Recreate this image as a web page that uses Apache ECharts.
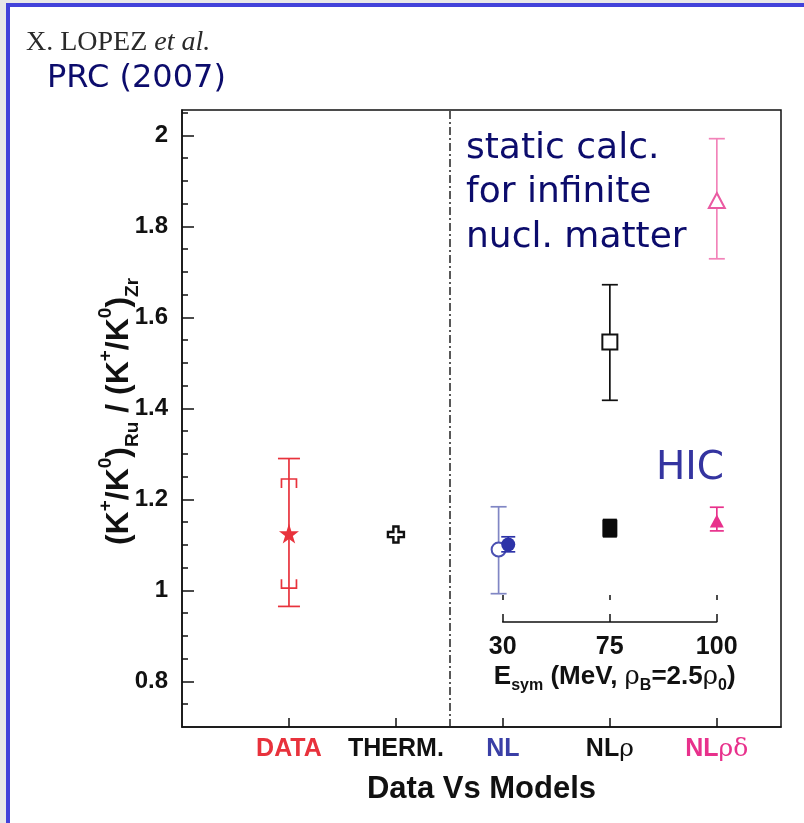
<!DOCTYPE html>
<html><head><meta charset="utf-8">
<script src="https://cdn.jsdelivr.net/npm/echarts@6/dist/echarts.min.js"></script>
<style>
html,body{margin:0;padding:0;background:#e8e8e8;width:804px;height:823px;overflow:hidden}
#frame{position:absolute;left:6px;top:3px;right:0;bottom:0;background:#fff;border-left:4px solid #4242da;border-top:4px solid #4242da}
#chart{position:absolute;left:0;top:0;width:804px;height:823px}
</style></head><body>
<div id="frame"></div>
<div id="chart"></div>
<script>
// Lower axis: one slot per data set / model
const categories = ['DATA', 'THERM.', 'NL', 'NLρ', 'NLρδ'];
const categoryPos = [1, 2, 3, 4, 5];

// Ratio axis ticks
const yMajorTicks = [0.8, 1.0, 1.2, 1.4, 1.6, 1.8, 2.0];
const yMinorTicks = [0.75, 0.85, 0.9, 0.95, 1.05, 1.1, 1.15, 1.25, 1.3, 1.35,
                     1.45, 1.5, 1.55, 1.65, 1.7, 1.75, 1.85, 1.9, 1.95, 2.05];

// Symmetry energy scale under the model columns
const esymPos = [3, 4, 5];
const esymLabels = ['30', '75', '100'];

// Measured ratio (star) with statistical and systematic errors
const dataX = [1];
const dataY = [1.125];
const dataStatLow = [0.965];
const dataStatHigh = [1.29];
const dataSysLow = [1.005];
const dataSysHigh = [1.245];

// Thermal model
const thermX = [2];
const thermY = [1.123];

// Static calculation for infinite nuclear matter (open symbols)
const staticX = [2.96, 4, 5];
const staticY = [1.09, 1.546, 1.857];
const staticLow = [0.993, 1.418, 1.729];
const staticHigh = [1.184, 1.672, 1.993];

// Heavy-ion collision transport results (filled symbols)
const hicX = [3.05, 4, 5];
const hicY = [1.101, 1.137, 1.153];
const hicLow = [1.085, 1.118, 1.131];
const hicHigh = [1.118, 1.156, 1.183];

// Per-model colours: NL, NLρ, NLρδ
const staticMarkColors = ['#4a50b2', '#111111', '#ea5aa2'];
const staticBarColors = ['#8086c4', '#111111', '#f283b9'];
const hicColors = ['#2d33a8', '#0a0a0a', '#e8318c'];
const staticSymbols = ['circle', 'rect', 'triangle'];
const staticSizes = [14, 15, [16, 15]];
const hicSymbols = ['circle', 'rect', 'triangle'];
const hicSizes = [14, [15, 17], [14, 13]];

const RED = '#e8323c';
const STAR = 'path://M50,0 L61.8,35.5 L99,35.5 L69,57.5 L80.5,93 L50,71 L19.5,93 L31,57.5 L1,35.5 L38.2,35.5 Z';
const PLUS = 'path://M34,0 H66 V34 H100 V66 H66 V100 H34 V66 H0 V34 H34 Z';
const BOLD = 'Liberation Sans';

function errorBars(name, xs, lows, highs, colors, capHalf, z) {
  return {
    type: 'custom', name: name, xAxisIndex: 0, yAxisIndex: 0, z: z, silent: true,
    data: xs.map((x, i) => [x, lows[i], highs[i], i]),
    encode: { x: 0, y: [1, 2] },
    renderItem: function (params, api) {
      const x = api.value(0);
      const lo = api.coord([x, api.value(1)]);
      const hi = api.coord([x, api.value(2)]);
      const style = { stroke: colors[api.value(3)], lineWidth: 1.7, fill: null };
      return { type: 'group', children: [
        { type: 'line', shape: { x1: lo[0], y1: lo[1], x2: hi[0], y2: hi[1] }, style: style },
        { type: 'line', shape: { x1: lo[0] - capHalf, y1: lo[1], x2: lo[0] + capHalf, y2: lo[1] }, style: style },
        { type: 'line', shape: { x1: hi[0] - capHalf, y1: hi[1], x2: hi[0] + capHalf, y2: hi[1] }, style: style }
      ]};
    }
  };
}

// Systematic-error brackets: legs turn toward the central value
function brackets(xs, lows, highs, color, half, leg) {
  return {
    type: 'custom', xAxisIndex: 0, yAxisIndex: 0, z: 3, silent: true,
    data: xs.map((x, i) => [x, lows[i], highs[i]]),
    encode: { x: 0, y: [1, 2] },
    renderItem: function (params, api) {
      const x = api.value(0);
      const lo = api.coord([x, api.value(1)]);
      const hi = api.coord([x, api.value(2)]);
      const style = { stroke: color, lineWidth: 1.7, fill: null };
      return { type: 'group', children: [
        { type: 'polyline', shape: { points: [[hi[0] - half, hi[1] + leg], [hi[0] - half, hi[1]], [hi[0] + half, hi[1]], [hi[0] + half, hi[1] + leg]] }, style: style },
        { type: 'polyline', shape: { points: [[lo[0] - half, lo[1] - leg], [lo[0] - half, lo[1]], [lo[0] + half, lo[1]], [lo[0] + half, lo[1] - leg]] }, style: style }
      ]};
    }
  };
}

const LBL = 25;
const labelRich = {
  d: { color: '#e8323c', fontWeight: 'bold', fontSize: LBL, fontFamily: BOLD },
  t: { color: '#111', fontWeight: 'bold', fontSize: LBL, fontFamily: BOLD },
  n: { color: '#3a3fa6', fontWeight: 'bold', fontSize: LBL, fontFamily: BOLD },
  k: { color: '#111', fontWeight: 'bold', fontSize: LBL, fontFamily: BOLD },
  kg: { color: '#111', fontSize: 25, fontFamily: 'DejaVu Serif' },
  p: { color: '#e8318c', fontWeight: 'bold', fontSize: LBL, fontFamily: BOLD },
  pg: { color: '#e8318c', fontSize: 25, fontFamily: 'DejaVu Serif' }
};
const labelTags = ['{d|DATA}', '{t|THERM.}', '{n|NL}', '{k|NL}{kg|ρ}', '{p|NL}{pg|ρδ}'];

const chart = echarts.init(document.getElementById('chart'), null, { renderer: 'canvas' });
chart.setOption({
  animation: false,
  backgroundColor: 'transparent',
  textStyle: { fontFamily: BOLD },
  grid: [
    { left: 182, right: 23, top: 110, bottom: 96, show: true, borderColor: '#111', borderWidth: 1.5, backgroundColor: 'transparent' },
    { left: 502.7, width: 214, top: 600, height: 22, show: false }
  ],
  xAxis: [
    {
      type: 'value', gridIndex: 0, min: 0, max: 5.6,
      axisLine: { show: true, lineStyle: { color: '#111', width: 1.5 } },
      axisTick: { show: true, inside: true, length: 9, customValues: categoryPos, lineStyle: { color: '#111', width: 1.5 } },
      axisLabel: {
        customValues: categoryPos, margin: 10,
        formatter: v => labelTags[categoryPos.indexOf(v)],
        rich: labelRich
      },
      splitLine: { show: false },
      name: 'Data Vs Models', nameLocation: 'middle', nameGap: 47,
      nameTextStyle: { color: '#111', fontWeight: 'bold', fontSize: 31, fontFamily: BOLD }
    },
    {
      type: 'value', gridIndex: 1, min: 3, max: 5,
      axisLine: { show: true, lineStyle: { color: '#111', width: 1.5 } },
      axisTick: { show: true, inside: true, length: 8, customValues: esymPos, lineStyle: { color: '#111', width: 1.5 } },
      axisLabel: {
        customValues: esymPos, margin: 13, color: '#111',
        fontWeight: 'bold', fontSize: 25, fontFamily: BOLD,
        formatter: v => esymLabels[esymPos.indexOf(v)]
      },
      splitLine: { show: false },
      name: '{b|E}{s|sym}{b| (MeV, }{g|ρ}{s|B}{b|=2.5}{g|ρ}{s|0}{b|)}',
      nameLocation: 'middle', nameGap: 38,
      nameTextStyle: {
        padding: [0, 0, 0, 10],
        rich: {
          b: { color: '#111', fontWeight: 'bold', fontSize: 26, fontFamily: BOLD, lineHeight: 34, verticalAlign: 'middle' },
          g: { color: '#111', fontSize: 26, fontFamily: 'DejaVu Serif', lineHeight: 34, verticalAlign: 'middle' },
          s: { color: '#111', fontWeight: 'bold', fontSize: 16, fontFamily: BOLD, lineHeight: 34, verticalAlign: 'bottom' }
        }
      }
    },
    {
      type: 'value', gridIndex: 1, min: 3, max: 5,
      axisLine: { show: false },
      axisTick: { show: true, inside: false, length: 5, customValues: esymPos, lineStyle: { color: '#111', width: 1.5 } },
      axisLabel: { show: false },
      splitLine: { show: false }
    }
  ],
  yAxis: [
    {
      type: 'value', gridIndex: 0, min: 0.7, max: 2.056,
      axisLine: { show: true, lineStyle: { color: '#111', width: 1.5 } },
      axisTick: { show: true, inside: true, length: 12, customValues: yMajorTicks, lineStyle: { color: '#111', width: 1.5 } },
      axisLabel: {
        customValues: yMajorTicks, margin: 14, color: '#111',
        fontWeight: 'bold', fontSize: 24, fontFamily: BOLD,
        formatter: v => (Math.abs(v - Math.round(v)) < 1e-9 ? String(Math.round(v)) : v.toFixed(1))
      },
      splitLine: { show: false },
      name: '{p|(K}{u|+}{p|/K}{u|0}{p|)}{l|Ru}{p| / (K}{u|+}{p|/K}{u|0}{p|)}{l|Zr}',
      nameLocation: 'middle', nameGap: 40, nameRotate: 90, nameMoveOverlap: false,
      nameTextStyle: {
        padding: [0, 0, 0, 14],
        rich: {
          p: { color: '#111', fontWeight: 'bold', fontSize: 32, fontFamily: BOLD, lineHeight: 46, verticalAlign: 'middle' },
          u: { color: '#111', fontWeight: 'bold', fontSize: 19, fontFamily: BOLD, lineHeight: 46, verticalAlign: 'top' },
          l: { color: '#111', fontWeight: 'bold', fontSize: 19, fontFamily: BOLD, lineHeight: 46, verticalAlign: 'bottom' }
        }
      }
    },
    {
      type: 'value', gridIndex: 0, min: 0.7, max: 2.056, position: 'left',
      axisLine: { show: false },
      axisTick: { show: true, inside: true, length: 6, customValues: yMinorTicks, lineStyle: { color: '#111', width: 1.5 } },
      axisLabel: { show: false },
      splitLine: { show: false }
    },
    { type: 'value', gridIndex: 1, min: 0, max: 1, show: false }
  ],
  graphic: [
    {
      type: 'text', left: 26, top: 29, silent: true,
      style: {
        text: '{a|X. LOPEZ }{b|et al.}',
        rich: {
          a: { fill: '#2a2a2a', fontSize: 28, fontFamily: 'Liberation Serif' },
          b: { fill: '#2a2a2a', fontSize: 28, fontFamily: 'Liberation Serif', fontStyle: 'italic' }
        }
      }
    },
    {
      type: 'text', left: 47, top: 63, silent: true,
      style: { text: 'PRC (2007)', fill: '#0c0c6c', fontSize: 32, fontFamily: 'DejaVu Sans' }
    },
    {
      type: 'text', left: 466, top: 126, silent: true,
      style: { text: 'static calc.\nfor infinite\nnucl. matter', fill: '#0c0c6c', fontSize: 36, lineHeight: 44.5, fontFamily: 'DejaVu Sans' }
    },
    {
      type: 'text', left: 656, top: 449, silent: true,
      style: { text: 'HIC', fill: '#3434a0', fontSize: 39, fontFamily: 'DejaVu Sans' }
    }
  ],
  series: [
    // divider between data and models
    {
      type: 'scatter', xAxisIndex: 0, yAxisIndex: 0, data: [], silent: true,
      markLine: {
        silent: true, symbol: 'none', label: { show: false },
        lineStyle: { color: '#222', width: 1.5, type: [8, 3, 2, 3] },
        data: [{ xAxis: 2.5 }]
      }
    },
    errorBars('data-stat', dataX, dataStatLow, dataStatHigh, [RED], 11, 3),
    brackets(dataX, dataSysLow, dataSysHigh, RED, 7.5, 9),
    {
      type: 'scatter', xAxisIndex: 0, yAxisIndex: 0, z: 5, silent: true,
      symbol: STAR, symbolSize: 20,
      itemStyle: { color: RED, opacity: 1 },
      data: dataX.map((x, i) => [x, dataY[i]])
    },
    {
      type: 'scatter', xAxisIndex: 0, yAxisIndex: 0, z: 5, silent: true,
      symbol: PLUS, symbolSize: 16,
      itemStyle: { color: '#fff', borderColor: '#111', borderWidth: 2.4, opacity: 1 },
      data: thermX.map((x, i) => [x, thermY[i]])
    },
    errorBars('static-err', staticX, staticLow, staticHigh, staticBarColors, 8, 3),
    {
      type: 'scatter', xAxisIndex: 0, yAxisIndex: 0, z: 5, silent: true,
      data: staticX.map((x, i) => ({
        value: [x, staticY[i]], symbol: staticSymbols[i], symbolSize: staticSizes[i],
        itemStyle: { color: '#fff', borderColor: staticMarkColors[i], borderWidth: 2, opacity: 1 }
      }))
    },
    errorBars('hic-err', hicX, hicLow, hicHigh, hicColors, 7, 6),
    {
      type: 'scatter', xAxisIndex: 0, yAxisIndex: 0, z: 7, silent: true,
      data: hicX.map((x, i) => ({
        value: [x, hicY[i]], symbol: hicSymbols[i], symbolSize: hicSizes[i],
        itemStyle: { color: hicColors[i], opacity: 1 }
      }))
    }
  ]
});
</script>
</body></html>
